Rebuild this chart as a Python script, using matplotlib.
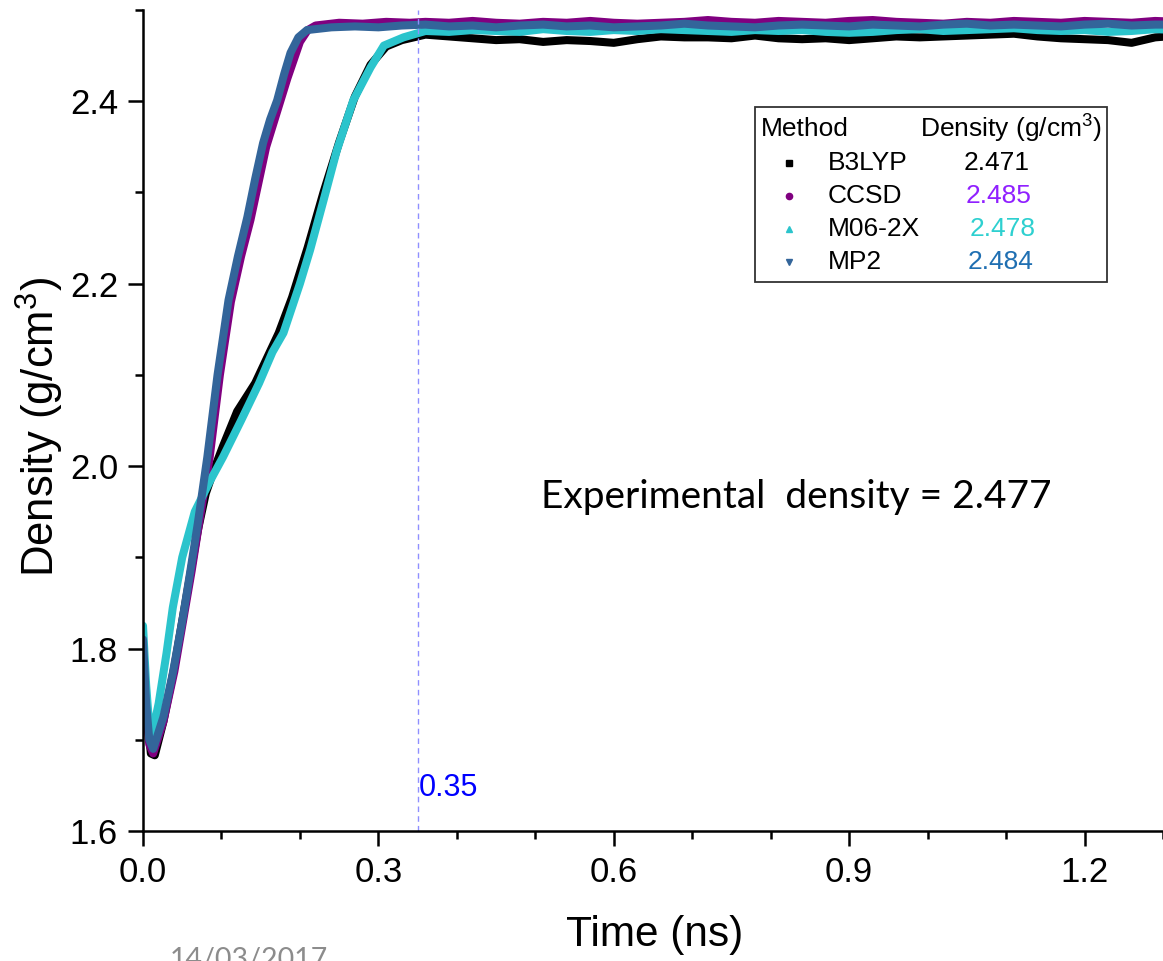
import numpy as np
import matplotlib
matplotlib.use("Agg")
import matplotlib.pyplot as plt
from matplotlib.patches import Rectangle
from matplotlib.lines import Line2D
from matplotlib.ticker import MultipleLocator

plt.rcParams['font.family'] = ['Liberation Sans', 'DejaVu Sans']
plt.rcParams['mathtext.default'] = 'regular'

# time grid of the plateau part (ns)
plateau_t = [0.36, 0.39, 0.42, 0.45, 0.48, 0.51, 0.54, 0.57, 0.60, 0.63, 0.66,
             0.69, 0.72, 0.75, 0.78, 0.81, 0.84, 0.87, 0.90, 0.93, 0.96, 0.99,
             1.02, 1.05, 1.08, 1.11, 1.14, 1.17, 1.20, 1.23, 1.26, 1.29, 1.32]

# B3LYP
b3lyp_t = [0.0, 0.005, 0.01, 0.015, 0.026, 0.04, 0.05, 0.06, 0.07, 0.08, 0.09,
           0.102, 0.12, 0.143, 0.173, 0.19, 0.21, 0.23, 0.25, 0.27, 0.29, 0.31, 0.33]
b3lyp_rise = [1.80, 1.73, 1.685, 1.683, 1.72, 1.78, 1.83, 1.88, 1.93, 1.97, 1.995,
              2.022, 2.06, 2.091, 2.146, 2.185, 2.24, 2.30, 2.355, 2.405, 2.44, 2.46, 2.467]
b3lyp_plateau = [2.473, 2.471, 2.469, 2.467, 2.468, 2.465, 2.467, 2.466, 2.464, 2.468, 2.471,
                 2.470, 2.470, 2.469, 2.472, 2.469, 2.468, 2.469, 2.467, 2.469, 2.471, 2.470,
                 2.471, 2.472, 2.473, 2.474, 2.471, 2.469, 2.468, 2.467, 2.464, 2.470, 2.472]

# CCSD
ccsd_t = [0.0, 0.004, 0.008, 0.013, 0.026, 0.04, 0.052, 0.062, 0.072, 0.085, 0.098,
          0.112, 0.125, 0.137, 0.147, 0.157, 0.166, 0.175, 0.184, 0.192, 0.2, 0.21,
          0.22, 0.25, 0.28, 0.31, 0.34]
ccsd_rise = [1.80, 1.73, 1.695, 1.685, 1.72, 1.775, 1.835, 1.885, 1.94, 2.01, 2.10,
             2.18, 2.23, 2.27, 2.31, 2.35, 2.375, 2.40, 2.425, 2.445, 2.465, 2.478,
             2.483, 2.486, 2.485, 2.487, 2.486]
ccsd_plateau = [2.487, 2.486, 2.488, 2.486, 2.485, 2.487, 2.486, 2.488, 2.486, 2.485, 2.486,
                2.487, 2.489, 2.487, 2.486, 2.488, 2.487, 2.486, 2.488, 2.489, 2.487, 2.486,
                2.485, 2.487, 2.486, 2.488, 2.487, 2.486, 2.488, 2.487, 2.486, 2.488, 2.487]

# M06-2X
m062x_t = [0.0, 0.004, 0.008, 0.011, 0.02, 0.03, 0.038, 0.05, 0.066, 0.085, 0.102,
           0.125, 0.148, 0.165, 0.179, 0.2, 0.213, 0.23, 0.247, 0.268, 0.29, 0.307, 0.332]
m062x_rise = [1.825, 1.76, 1.715, 1.703, 1.74, 1.795, 1.845, 1.90, 1.95, 1.983, 2.01,
              2.05, 2.091, 2.125, 2.146, 2.20, 2.237, 2.291, 2.346, 2.401, 2.437, 2.461, 2.470]
m062x_plateau = [2.477, 2.476, 2.478, 2.477, 2.476, 2.479, 2.477, 2.476, 2.478, 2.477, 2.479,
                 2.478, 2.477, 2.476, 2.478, 2.477, 2.478, 2.476, 2.475, 2.476, 2.478, 2.479,
                 2.477, 2.478, 2.479, 2.480, 2.478, 2.477, 2.478, 2.476, 2.477, 2.479, 2.478]

# MP2
mp2_t = [0.0, 0.004, 0.008, 0.013, 0.026, 0.038, 0.051, 0.060, 0.070, 0.082, 0.095,
         0.109, 0.121, 0.133, 0.143, 0.153, 0.162, 0.171, 0.18, 0.188, 0.198, 0.209,
         0.24, 0.27, 0.30, 0.33]
mp2_rise = [1.81, 1.74, 1.70, 1.69, 1.725, 1.773, 1.835, 1.883, 1.938, 2.01, 2.10,
            2.182, 2.23, 2.273, 2.315, 2.354, 2.38, 2.401, 2.43, 2.453, 2.47, 2.478,
            2.481, 2.482, 2.481, 2.483]
mp2_plateau = [2.484, 2.482, 2.483, 2.481, 2.483, 2.484, 2.482, 2.483, 2.481, 2.482, 2.483,
               2.485, 2.483, 2.482, 2.481, 2.483, 2.484, 2.483, 2.482, 2.484, 2.483, 2.482,
               2.484, 2.485, 2.483, 2.484, 2.483, 2.482, 2.484, 2.485, 2.483, 2.484, 2.484]

methods = ["B3LYP", "CCSD", "M06-2X", "MP2"]
final_density = ["2.471", "2.485", "2.478", "2.484"]
line_colors = ["#000000", "#800080", "#2bc4cc", "#33659a"]
value_colors = ["#000000", "#9020ff", "#2ed0d0", "#1f6fb2"]
markers = ["s", "o", "^", "v"]
exp_density = "2.477"
mark_time = 0.35

W, H = 1163, 961


def fx(px):
    return px / W


def fy(py):
    return 1 - py / H


fig = plt.figure(figsize=(W / 100, H / 100), dpi=100)
ax = fig.add_axes([fx(143), fy(831), fx(1163) - fx(143), fy(10) - fy(831)])

series = [(b3lyp_t, b3lyp_rise, b3lyp_plateau),
          (ccsd_t, ccsd_rise, ccsd_plateau),
          (m062x_t, m062x_rise, m062x_plateau),
          (mp2_t, mp2_rise, mp2_plateau)]
for (t, rise, plat), col in zip(series, line_colors):
    ax.plot(list(t) + plateau_t, list(rise) + plat, color=col, lw=5.8,
            solid_joinstyle="round", solid_capstyle="round")

ax.axvline(mark_time, color="#8f8fff", lw=1.0, ls=(0, (4, 3)))
ax.text(mark_time + 0.002, 1.647, f"{mark_time:.2f}", color="#0000ff",
        fontsize=22, ha="left", va="center")

ax.set_xlim(0, 1.3)
ax.set_ylim(1.6, 2.5)
ax.xaxis.set_major_locator(MultipleLocator(0.3))
ax.xaxis.set_minor_locator(MultipleLocator(0.1))
ax.yaxis.set_major_locator(MultipleLocator(0.2))
ax.yaxis.set_minor_locator(MultipleLocator(0.1))
ax.xaxis.set_major_formatter(plt.FormatStrFormatter("%.1f"))
ax.yaxis.set_major_formatter(plt.FormatStrFormatter("%.1f"))
ax.tick_params(which="major", length=11, width=1.8, labelsize=25, pad=7, direction="out")
ax.tick_params(which="minor", length=5.5, width=1.8, direction="out")
for s in ["top", "right"]:
    ax.spines[s].set_visible(False)
for s in ["left", "bottom"]:
    ax.spines[s].set_linewidth(1.8)

fig.text(fx(655), fy(935), "Time (ns)", fontsize=30.5, ha="center", va="center")
fig.text(fx(40), fy(427), "Density (g/cm$^3$)", fontsize=31.5, ha="center",
         va="center", rotation=90)

fig.text(fx(541), fy(497), f"Experimental  density = {exp_density}",
         family="Lato", fontsize=28, ha="left", va="center")
fig.text(fx(170), fy(968), "14/03/2017", family="Lato", fontsize=20.5,
         color="#8c8c8c", ha="left", va="baseline")

# legend box
fig.add_artist(Rectangle((fx(755), fy(282)), fx(1107) - fx(755), fy(107) - fy(282),
                         transform=fig.transFigure, fill=False, ec="#333333", lw=1.3))
fig.text(fx(761), fy(129), "Method", fontsize=19, ha="left", va="center")
fig.text(fx(920), fy(129), "Density (g/cm$^3$)", fontsize=19, ha="left", va="center")
row_y = [163, 196, 229, 262]
value_x = [964, 966, 970, 968]
for name, val, lc, vc, mk, ry, vx in zip(methods, final_density, line_colors,
                                         value_colors, markers, row_y, value_x):
    fig.add_artist(Line2D([fx(789)], [fy(ry)], transform=fig.transFigure,
                          marker=mk, color=lc, ms=4.5, ls="none"))
    fig.text(fx(828), fy(ry), name, fontsize=19, ha="left", va="center")
    fig.text(fx(vx), fy(ry), val, fontsize=19, ha="left", va="center", color=vc)

fig.savefig("out.png", dpi=100)
